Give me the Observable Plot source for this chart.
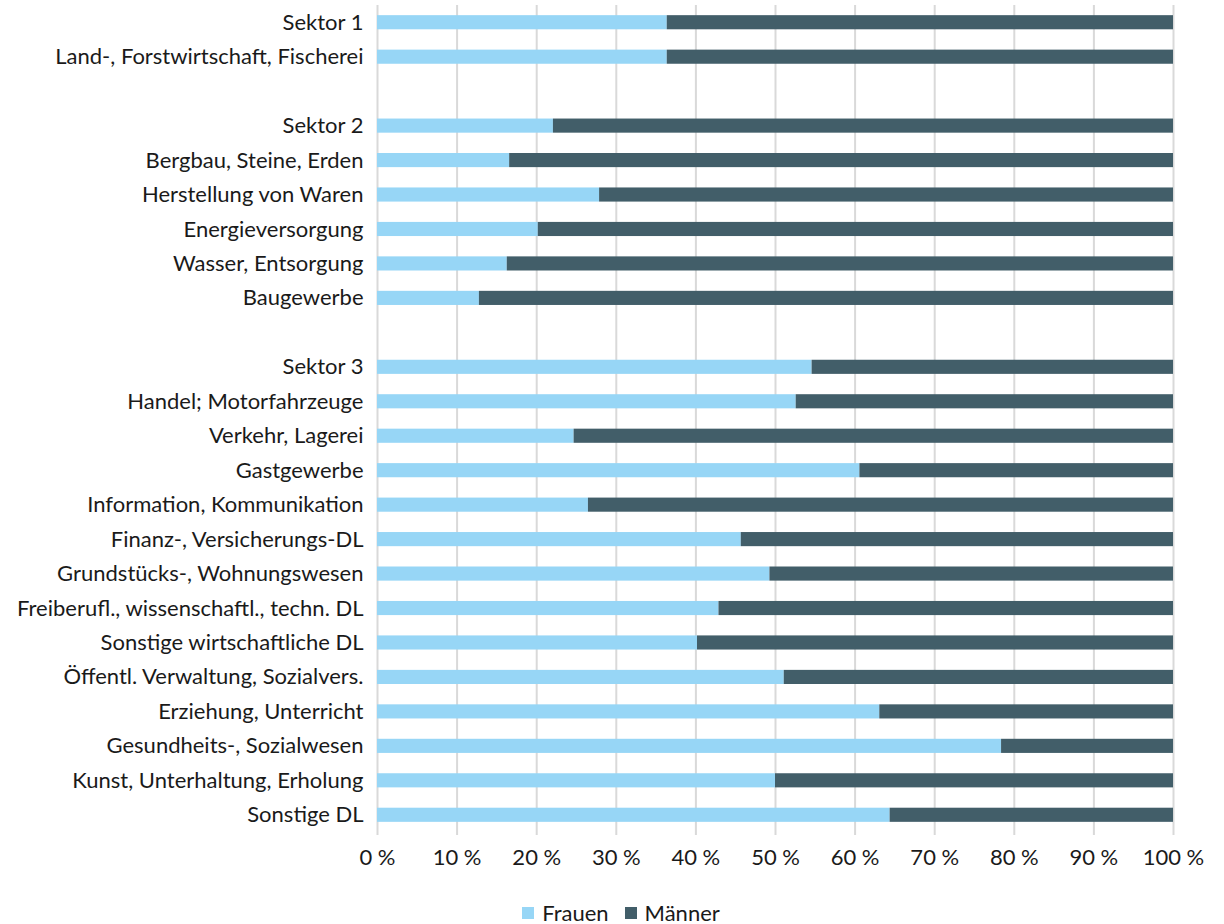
<!DOCTYPE html>
<html>
<head>
<meta charset="utf-8">
<script src="https://cdn.jsdelivr.net/npm/d3@7"></script>
<script src="https://cdn.jsdelivr.net/npm/@observablehq/plot@0.6"></script>
<style>
  html, body { margin: 0; padding: 0; background: #fff; }
  body { width: 1224px; font-family: Lato, "Liberation Sans", sans-serif; color: #1a1a1a; }
  #legend { display: flex; justify-content: center; align-items: center; gap: 0; padding-top: 22px; font-size: 22px; line-height: 22px; margin-left: 18px; }
  .item { display: flex; align-items: center; margin: 0 8px; }
  .sw { width: 12px; height: 12px; margin-right: 8px; }
</style>
</head>
<body>
<div id="chart"></div>
<div id="legend"></div>
<script>
const categories = [
  "Sektor 1",
  "Land-, Forstwirtschaft, Fischerei",
  "",
  "Sektor 2",
  "Bergbau, Steine, Erden",
  "Herstellung von Waren",
  "Energieversorgung",
  "Wasser, Entsorgung",
  "Baugewerbe",
  "",
  "Sektor 3",
  "Handel; Motorfahrzeuge",
  "Verkehr, Lagerei",
  "Gastgewerbe",
  "Information, Kommunikation",
  "Finanz-, Versicherungs-DL",
  "Grundstücks-, Wohnungswesen",
  "Freiberufl., wissenschaftl., techn. DL",
  "Sonstige wirtschaftliche DL",
  "Öffentl. Verwaltung, Sozialvers.",
  "Erziehung, Unterricht",
  "Gesundheits-, Sozialwesen",
  "Kunst, Unterhaltung, Erholung",
  "Sonstige DL"
];
const frauen = [36.4, 36.4, null, 22.1, 16.6, 27.9, 20.2, 16.3, 12.8, null,
  54.6, 52.6, 24.7, 60.6, 26.5, 45.7, 49.3, 42.9, 40.2, 51.1, 63.1, 78.4, 50.0, 64.4];
const maenner = [63.6, 63.6, null, 77.9, 83.4, 72.1, 79.8, 83.7, 87.2, null,
  45.4, 47.4, 75.3, 39.4, 73.5, 54.3, 50.7, 57.1, 59.8, 48.9, 36.9, 21.6, 50.0, 35.6];
const seriesNames = ["Frauen", "Männer"];
const seriesColors = ["#97D6F6", "#425E69"];
const xTicks = [0, 10, 20, 30, 40, 50, 60, 70, 80, 90, 100];

const keys = categories.map((c, i) => c === "" ? `__gap${i}` : c);
const rows = [];
keys.forEach((k, i) => {
  if (frauen[i] != null) rows.push({key: k, sex: seriesNames[0], value: frauen[i]});
  if (maenner[i] != null) rows.push({key: k, sex: seriesNames[1], value: maenner[i]});
});

const chart = Plot.plot({
  width: 1224,
  height: 880,
  marginLeft: 377,
  marginRight: 51,
  marginTop: 5,
  marginBottom: 48,
  style: { fontFamily: "Lato, 'Liberation Sans', sans-serif", fontSize: "22px", color: "#1a1a1a", background: "#fff" },
  x: { domain: [0, 100], ticks: xTicks, label: null },
  y: { domain: keys, paddingInner: 0.59, paddingOuter: 0.295, round: false, label: null },
  color: { domain: seriesNames, range: seriesColors },
  marks: [
    Plot.ruleX(xTicks, { stroke: "#d9d9d9", strokeWidth: 2, insetBottom: -3 }),
    Plot.barX(rows, { y: "key", x: "value", fill: "sex", order: seriesNames }),
    Plot.axisX({ ticks: xTicks, tickFormat: d => d + "\u202F%", tickSize: 0, tickPadding: 17, label: null, fontSize: 22 }),
    Plot.axisY({ tickSize: 0, tickPadding: 14, label: null, fontSize: 22,
                 tickFormat: d => d.startsWith("__gap") ? "" : d })
  ]
});
document.getElementById("chart").appendChild(chart);

const legend = document.getElementById("legend");
seriesNames.forEach((n, i) => {
  const item = document.createElement("div");
  item.className = "item";
  const sw = document.createElement("div");
  sw.className = "sw";
  sw.style.background = seriesColors[i];
  const t = document.createElement("span");
  t.textContent = n;
  item.appendChild(sw);
  item.appendChild(t);
  legend.appendChild(item);
});
</script>
</body>
</html>
